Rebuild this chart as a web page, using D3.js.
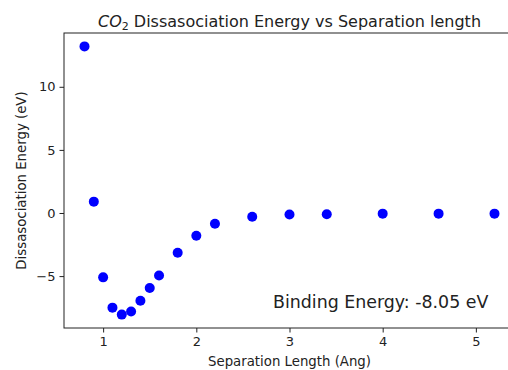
<!DOCTYPE html>
<html>
<head>
<meta charset="utf-8">
<script src="https://cdn.jsdelivr.net/npm/d3@7"></script>
<style>
  body { margin: 0; background: #fff; }
  svg { font-family: "DejaVu Sans", sans-serif; }
</style>
</head>
<body>
<div class="d3"></div>
<script>
'use strict';

// separation length (Ang) and dissociation energy (eV)
const separation = [0.8, 0.9, 1.0, 1.1, 1.2, 1.3, 1.4, 1.5, 1.6, 1.8, 2.0, 2.2, 2.6, 3.0, 3.4, 4.0, 4.6, 5.2];
const energy = [13.2, 0.9, -5.1, -7.5, -8.05, -7.8, -6.95, -5.95, -4.95, -3.15, -1.8, -0.85, -0.3, -0.12, -0.1, -0.05, -0.05, -0.05];
const xTicks = [1, 2, 3, 4, 5];
const yTicks = [-5, 0, 5, 10];
const bindingLabel = 'Binding Energy: -8.05 eV';

const width = 508, height = 370;
const margin = {top: 33, right: -7, bottom: 42, left: 64};

const svg = d3.select('.d3').append('svg')
  .attr('width', width)
  .attr('height', height);

// matplotlib-style 5% padding around the data
const xExt = d3.extent(separation), yExt = d3.extent(energy);
const xPad = (xExt[1] - xExt[0]) * 0.05, yPad = (yExt[1] - yExt[0]) * 0.05;

const x = d3.scaleLinear()
  .domain([xExt[0] - xPad, xExt[1] + xPad])
  .range([margin.left, width - margin.right]);
const y = d3.scaleLinear()
  .domain([yExt[0] - yPad, yExt[1] + yPad])
  .range([height - margin.bottom, margin.top]);

const axisColor = '#222';

//x axis
const gx = svg.append('g')
  .attr('transform', 'translate(0,' + (height - margin.bottom) + ')')
  .call(d3.axisBottom(x).tickValues(xTicks).tickSize(4.5).tickPadding(4).tickFormat(d3.format('d')));
//y axis
const gy = svg.append('g')
  .attr('transform', 'translate(' + margin.left + ',0)')
  .call(d3.axisLeft(y).tickValues(yTicks).tickSize(4.5).tickPadding(4).tickFormat(d => d < 0 ? '\u2212' + Math.abs(d) : d));

[gx, gy].forEach(g => {
  g.select('.domain').remove();
  g.selectAll('line').attr('stroke', axisColor).attr('stroke-width', 1);
  g.selectAll('text').attr('fill', axisColor).style('font-size', '13px').style('font-family', '"DejaVu Sans", sans-serif');
});

// frame
svg.append('rect')
  .attr('x', margin.left)
  .attr('y', margin.top)
  .attr('width', width - margin.right - margin.left)
  .attr('height', height - margin.bottom - margin.top)
  .attr('fill', 'none')
  .attr('stroke', axisColor)
  .attr('stroke-width', 1);

svg.selectAll('.dot')
  .data(separation.map((s, i) => ({s: s, e: energy[i]})))
  .enter()
  .append('circle')
  .attr('class', 'dot')
  .attr('cx', d => x(d.s))
  .attr('cy', d => y(d.e))
  .attr('r', 5)
  .attr('fill', '#0000ff');

// title with CO2 (italic, subscript)
const title = svg.append('text')
  .attr('x', (margin.left + width - margin.right) / 2)
  .attr('y', 26.5)
  .attr('text-anchor', 'middle')
  .attr('fill', axisColor)
  .style('font-size', '16px');
title.append('tspan').attr('font-style', 'italic').text('CO');
title.append('tspan').attr('dy', 3.5).style('font-size', '11px').text('2');
title.append('tspan').attr('dy', -3.5).text(' Dissasociation Energy vs Separation length');

svg.append('text')
  .attr('x', (margin.left + width - margin.right) / 2)
  .attr('y', 366)
  .attr('text-anchor', 'middle')
  .attr('fill', axisColor)
  .style('font-size', '13.3px')
  .text('Separation Length (Ang)');

svg.append('text')
  .attr('transform', 'translate(26,' + (margin.top + height - margin.bottom) / 2 + ') rotate(-90)')
  .attr('text-anchor', 'middle')
  .attr('fill', axisColor)
  .style('font-size', '13.3px')
  .text('Dissasociation Energy (eV)');

svg.append('text')
  .attr('x', 273)
  .attr('y', 308)
  .attr('fill', axisColor)
  .style('font-size', '17.4px')
  .text(bindingLabel);
</script>
</body>
</html>
